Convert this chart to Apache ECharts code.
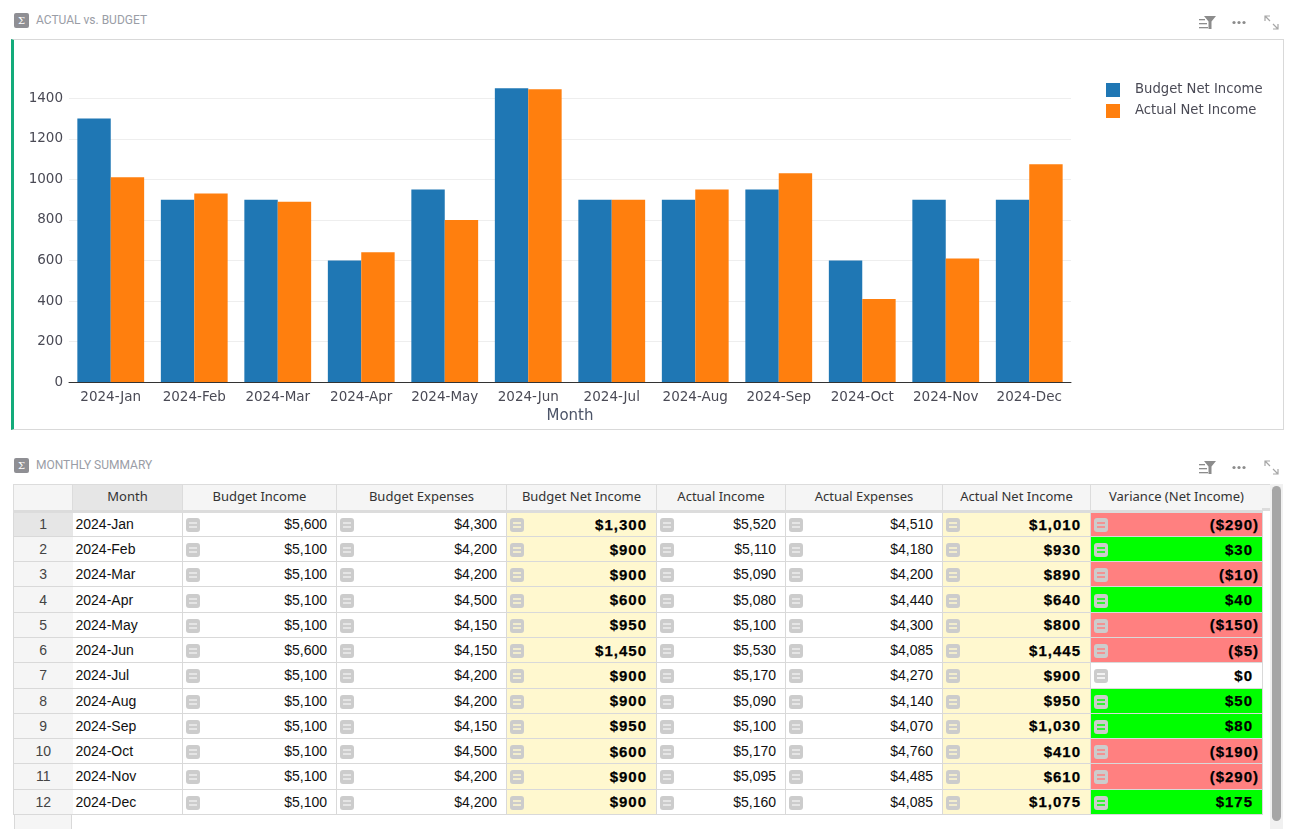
<!DOCTYPE html>
<html>
<head>
<meta charset="utf-8">
<title>Actual vs. Budget</title>
<script src="https://cdn.jsdelivr.net/npm/echarts@6/dist/echarts.min.js"></script>
<style>
html, body { margin: 0; padding: 0; background: #fff; overflow: hidden; }
body { width: 1294px; height: 829px; position: relative; font-family: "Liberation Sans", Arial, sans-serif; }
.section-title { position: absolute; left: 14px; height: 15px; font: 400 12px/15px Roboto, sans-serif; color: #9a9da6; white-space: nowrap; }
.section-title i { display: inline-block; width: 15px; height: 15px; margin-right: 7px; border-radius: 2px; background: #8f8f94; color: #fff; font: 10px/15px "DejaVu Serif", serif; text-align: center; vertical-align: top; }
.tools { position: absolute; left: 1198px; width: 84px; height: 18px; }
.panel { position: absolute; left: 11px; top: 39px; width: 1269px; height: 389px; border: 1px solid #d9d9d9; border-left: 3px solid #13ab7a; }
#chart { width: 1269px; height: 389px; }
table { position: absolute; left: 13px; top: 483.7px; border-collapse: collapse; table-layout: fixed; width: 1249px; }
th { height: 27px; padding: 0 0 2px; background: #f5f5f5; border: 1px solid #dcdcdc; border-bottom: 3px solid #dcdcdc; font: 400 13px "Noto Sans", sans-serif; color: #333; box-sizing: border-box; }
th.sel { background: #e6e6e6; }
td { height: 25.27px; padding: 0 9px 0 0; border: 1px solid #d9d9d9; box-sizing: border-box; font-size: 14px; color: #111; text-align: right; white-space: nowrap; position: relative; background: #fff; }
td.rowhead { background: #f5f5f5; text-align: center; padding: 0; color: #444; border-right: none; }
td.rowhead.sel { background: #e6e6e6; }
td.month { text-align: left; padding: 0 0 0 3px; border-left: none; }
td.net { background: #fff8cf; }
td.net, td.var { font: 700 15px "Liberation Sans", sans-serif; letter-spacing: 1px; -webkit-text-stroke: 0.25px #000; color: #000; }
td.var { padding-right: 3px; }
td.var.plain { padding-right: 9px; }
td.up { background: #00ff00; }
td.down { background: #ff8080; }
td.zero { background: #fff; }
.ico { position: absolute; left: 3px; top: 50%; margin-top: -6px; width: 14px; height: 14px; border-radius: 3px; background: #cccccc; }
.ico:before, .ico:after { content: ""; position: absolute; left: 3px; width: 8px; height: 2px; background: var(--cell, #eee); opacity: .75; }
.ico:before { top: 4px; }
.ico:after { top: 8px; }
.spacer { position: absolute; left: 14px; top: 815px; width: 58px; height: 14px; background: #f5f5f5; border-right: 1px solid #d9d9d9; border-left: 1px solid #d9d9d9; box-sizing: border-box; }
.header-end { position: absolute; left: 1262px; top: 484px; width: 8px; height: 27px; background: #f5f5f5; border-top: 1px solid #dcdcdc; border-bottom: 3px solid #dcdcdc; box-sizing: border-box; }
.track { position: absolute; left: 1270px; top: 484px; width: 13px; height: 345px; background: #f1f1f1; }
.thumb { position: absolute; left: 2px; top: 2px; width: 9px; height: 335px; border-radius: 5px; background: #a6a6a6; }
</style>
</head>
<body>
<div class="section-title" style="top:13px"><i>Σ</i>ACTUAL vs. BUDGET</div>
<div class="tools" style="top:13px"><svg width="84" height="18" class="toolicons"></svg></div>
<div class="panel"><div id="chart"></div></div>

<div class="section-title" style="top:458px"><i>Σ</i>MONTHLY SUMMARY</div>
<div class="tools" style="top:458px"><svg width="84" height="18" class="toolicons"></svg></div>
<table id="summary"></table>
<div class="spacer"></div>
<div class="header-end"></div>
<div class="track"><div class="thumb"></div></div>

<script>
const months = ['2024-Jan', '2024-Feb', '2024-Mar', '2024-Apr', '2024-May', '2024-Jun', '2024-Jul', '2024-Aug', '2024-Sep', '2024-Oct', '2024-Nov', '2024-Dec'];
const budgetIncome = [5600, 5100, 5100, 5100, 5100, 5600, 5100, 5100, 5100, 5100, 5100, 5100];
const budgetExpenses = [4300, 4200, 4200, 4500, 4150, 4150, 4200, 4200, 4150, 4500, 4200, 4200];
const budgetNetIncome = [1300, 900, 900, 600, 950, 1450, 900, 900, 950, 600, 900, 900];
const actualIncome = [5520, 5110, 5090, 5080, 5100, 5530, 5170, 5090, 5100, 5170, 5095, 5160];
const actualExpenses = [4510, 4180, 4200, 4440, 4300, 4085, 4270, 4140, 4070, 4760, 4485, 4085];
const actualNetIncome = [1010, 930, 890, 640, 800, 1445, 900, 950, 1030, 410, 610, 1075];
const variance = [-290, 30, -10, 40, -150, -5, 0, 50, 80, -190, -290, 175];
const tableHeaders = ['', 'Month', 'Budget Income', 'Budget Expenses', 'Budget Net Income', 'Actual Income', 'Actual Expenses', 'Actual Net Income', 'Variance (Net Income)'];
const columnWidths = [59, 110, 154, 170, 150, 129, 157, 148, 172];

const chart = echarts.init(document.getElementById('chart'));
const labelColor = '#4a4a55';
const chartFont = '"DejaVu Sans", Verdana, sans-serif';

chart.setOption({
    animation: false,
    textStyle: { fontFamily: chartFont },
    grid: { left: 55, right: 212, top: 38, bottom: 46.5 },
    legend: {
        left: 1087,
        top: 38,
        orient: 'vertical',
        itemWidth: 14,
        itemHeight: 14,
        itemGap: 7,
        icon: 'rect',
        textStyle: { color: labelColor, fontFamily: chartFont, fontSize: 13.2, padding: [0, 0, 0, 10] }
    },
    xAxis: {
        type: 'category',
        data: months,
        name: 'Month',
        nameLocation: 'middle',
        nameGap: 21,
        nameTextStyle: { color: '#4c5468', fontFamily: chartFont, fontSize: 15 },
        axisTick: { show: false },
        axisLine: { lineStyle: { color: '#333', width: 1 } },
        axisLabel: { color: labelColor, fontFamily: chartFont, fontSize: 13.5, margin: 8, interval: 0 }
    },
    yAxis: {
        type: 'value',
        min: 0,
        max: 1500,
        interval: 200,
        axisLabel: { color: labelColor, fontFamily: chartFont, fontSize: 13.5, margin: 6, showMaxLabel: false, formatter: v => String(v) },
        splitLine: { lineStyle: { color: '#eeeeee' }, showMaxLine: false }
    },
    series: [
        { name: 'Budget Net Income', type: 'bar', data: budgetNetIncome, barWidth: '40%', barGap: 0, itemStyle: { color: '#1f77b4' } },
        { name: 'Actual Net Income', type: 'bar', data: actualNetIncome, barWidth: '40%', barGap: 0, itemStyle: { color: '#ff7f0e' } }
    ]
});

// table below the chart
const money = v => '$' + Math.abs(v).toLocaleString('en-US');
const signedMoney = v => v < 0 ? '(' + money(v) + ')' : money(v);
const icon = color => `<span class="ico" style="--cell:${color}"></span>`;

let html = '<colgroup>' + columnWidths.map(w => `<col style="width:${w}px">`).join('') + '</colgroup><tr>';
tableHeaders.forEach((h, i) => { html += `<th class="${i === 1 ? 'sel' : ''}">${h}</th>`; });
html += '</tr>';
months.forEach((m, i) => {
    const varClass = variance[i] > 0 ? 'up' : variance[i] < 0 ? 'down' : 'zero';
    const varColor = variance[i] > 0 ? '#00ff00' : variance[i] < 0 ? '#ff8080' : '#ffffff';
    html += '<tr>' +
        `<td class="rowhead ${i === 0 ? 'sel' : ''}">${i + 1}</td>` +
        `<td class="month">${m}</td>` +
        `<td>${icon('#eeeeee')}${money(budgetIncome[i])}</td>` +
        `<td>${icon('#eeeeee')}${money(budgetExpenses[i])}</td>` +
        `<td class="net">${icon('#fff8cf')}${money(budgetNetIncome[i])}</td>` +
        `<td>${icon('#eeeeee')}${money(actualIncome[i])}</td>` +
        `<td>${icon('#eeeeee')}${money(actualExpenses[i])}</td>` +
        `<td class="net">${icon('#fff8cf')}${money(actualNetIncome[i])}</td>` +
        `<td class="var ${varClass} ${variance[i] < 0 ? '' : 'plain'}">${icon(varColor)}${signedMoney(variance[i])}</td>` +
        '</tr>';
});
document.getElementById('summary').innerHTML = html;

// toolbar glyphs
const toolGlyphs = '<g fill="#8c8c8c">' +
    '<path d="M6 3h12l-4.5 5.5V16h-3V8.5z"/><rect x="1" y="6" width="6" height="1.3"/><rect x="1" y="10" width="8" height="1.3"/><rect x="1" y="14" width="9" height="1.3"/>' +
    '<circle cx="36" cy="9.5" r="1.6"/><circle cx="41" cy="9.5" r="1.6"/><circle cx="46" cy="9.5" r="1.6"/></g>' +
    '<g fill="none" stroke="#a6a6a6" stroke-width="1.2"><path d="M67 8V3h5M67 3l5 5M80 11v5h-5M80 16l-5-5"/></g>';
document.querySelectorAll('.toolicons').forEach(s => { s.innerHTML = toolGlyphs; });

window.addEventListener('resize', chart.resize);
</script>
</body>
</html>
